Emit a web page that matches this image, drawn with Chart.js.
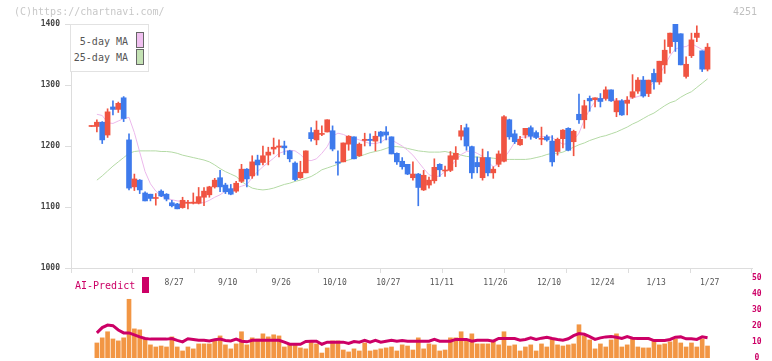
<!DOCTYPE html>
<html>
<head>
<meta charset="utf-8">
<script src="https://cdn.jsdelivr.net/npm/chart.js@4.4.1/dist/chart.umd.min.js"></script>
<style>
html, body { margin:0; padding:0; background:#fff; overflow:hidden; }
#wrap { position:relative; width:772px; height:361px; font-family:"DejaVu Sans Mono", monospace; }
canvas { position:absolute; left:0; }
#copy { position:absolute; left:14px; top:6px; font-size:10px; color:#c8c8c8; }
#code { position:absolute; left:733px; top:6px; font-size:10px; color:#c0c0c0; }
#legend { position:absolute; left:70px; top:24px; width:77px; height:46px; border:1px solid #e2e2e2; background:#fff; font-size:10px; color:#555; }
.li { position:absolute; right:20px; }
.sw { position:absolute; left:65px; width:6px; height:14px; border:1px solid #666; }
#ai { position:absolute; left:75px; top:280px; font-size:10px; color:#cc0066; }
#aibox { position:absolute; left:142px; top:277px; width:7px; height:16px; background:#cc0066; }
</style>
</head>
<body>
<div id="wrap">
  <canvas id="main" width="772" height="290" style="top:0"></canvas>
  <canvas id="sub" width="772" height="93" style="top:270px"></canvas>
  <div id="copy">(C)https://chartnavi.com/</div>
  <div id="code">4251</div>
  <div id="legend">
    <span class="li" style="top:11px">5-day MA</span><span class="sw" style="top:7px;background:#f0c0f0"></span>
    <span class="li" style="top:27px">25-day MA</span><span class="sw" style="top:24px;background:#c4e2b4"></span>
  </div>
  <div id="ai">AI-Predict</div>
  <div id="aibox"></div>
</div>
<script>
// daily candles (index 0 = oldest)
var openP = [1232,1232,1239,1218,1264,1260,1279,1210,1133,1144,1123,1121,1114,1126,1121,1107,1105,1099,1106,1106,
  1106,1116,1120,1133,1148,1136,1130,1126,1142,1162,1151,1177,1173,1185,1195,1198,1200,1192,1172,1148,
  1156,1222,1210,1219,1223,1225,1174,1174,1203,1215,1184,1209,1211,1208,1223,1223,1215,1188,1175,1170,
  1148,1154,1128,1136,1143,1170,1159,1160,1178,1216,1230,1199,1173,1148,1181,1156,1170,1175,1243,1220,
  1202,1218,1230,1222,1211,1215,1208,1191,1212,1229,1207,1252,1243,1278,1276,1278,1278,1292,1256,1274,
  1270,1280,1290,1308,1286,1319,1305,1333,1363,1400,1384,1314,1348,1378,1356,1326];
var highP = [1233,1243,1240,1261,1274,1272,1281,1220,1154,1145,1125,1121,1122,1128,1122,1111,1106,1116,1111,1123,
  1132,1132,1134,1147,1160,1139,1137,1142,1170,1163,1184,1185,1200,1198,1213,1210,1208,1193,1174,1175,
  1192,1230,1241,1233,1243,1233,1192,1205,1217,1215,1205,1221,1220,1224,1224,1232,1215,1189,1181,1170,
  1174,1155,1160,1149,1179,1171,1167,1191,1199,1234,1236,1200,1182,1195,1191,1166,1192,1250,1244,1226,
  1216,1229,1233,1225,1231,1218,1217,1213,1227,1230,1226,1285,1275,1282,1279,1286,1297,1292,1278,1276,
  1281,1317,1312,1314,1308,1326,1339,1374,1385,1400,1384,1346,1385,1397,1356,1368];
var lowP = [1232,1223,1204,1214,1251,1255,1240,1128,1127,1122,1110,1110,1103,1117,1110,1100,1097,1098,1097,1105,
  1105,1102,1116,1131,1125,1122,1120,1124,1140,1133,1147,1152,1169,1169,1187,1182,1186,1174,1143,1147,
  1156,1208,1202,1217,1223,1192,1152,1174,1193,1179,1183,1200,1200,1192,1205,1210,1187,1170,1162,1153,
  1144,1102,1127,1131,1139,1150,1150,1158,1166,1210,1193,1147,1156,1144,1151,1147,1166,1174,1211,1204,
  1201,1213,1211,1212,1202,1208,1167,1185,1197,1192,1184,1237,1229,1257,1264,1264,1275,1273,1248,1250,
  1251,1278,1286,1280,1281,1293,1301,1319,1352,1355,1333,1311,1345,1371,1322,1323];
var closeP = [1232.5,1239,1210,1256,1260,1270,1245,1131,1146,1128,1110,1114,1115,1118,1113,1102,1097,1111,1107,1108,
  1117,1126,1133,1144,1133,1125,1121,1139,1162,1146,1174,1169,1184,1190,1198,1200,1197,1179,1145,1157,
  1192,1212,1226,1220,1243,1195,1172,1205,1216,1179,1203,1211,1209,1216,1216,1218,1187,1174,1166,1154,
  1154,1132,1152,1144,1165,1161,1160,1184,1188,1225,1200,1156,1166,1181,1156,1162,1187,1248,1215,1207,
  1211,1229,1216,1214,1212,1210,1174,1211,1226,1193,1224,1243,1266,1274,1279,1273,1292,1274,1274,1251,
  1275,1289,1308,1282,1308,1305,1339,1357,1385,1371,1333,1334,1374,1385,1326,1362];

// moving averages as drawn on the chart
var ma5 = [null,1252,1250,1238,1237,1241,1245,1247,1222,1190,1158,1138,1126,1118,1114,1112,1110,1109,1108,1107,1107,
  1107,1111,1116,1120,1126,1129,1131,1134,1137,1148,1158,1166,1173,1180,1188,1191,1193,1192,1186,1177,
  1176,1179,1188,1199,1216,1221,1219,1215,1213,1210,1207,1204,1204,1206,1212,1210,1205,1200,1193,1185,
  1174,1163,1153,1149,1151,1158,1165,1177,1186,1191,1192,1188,1183,1174,1166,1170,1180,1192,1206,1214,
  1215,1215,1215,1215,1216,1214,1208,1203,1204,1210,1221,1243,1260,1273,1277,1278,1277,1275,1274,1275,
  1279,1281,1284,1296,1305,1316,1332,1348,1359,1362,1363,1368,1363,1358,1357];
var ma25 = [null,1144,1151,1159,1167,1174,1181,1188,1191,1192,1192,1192,1192,1191,1191,1190,1188,1185,1183,1181,1179,
  1177,1174,1169,1163,1158,1154,1150,1142,1136,1131,1129,1128,1129,1131,1134,1137,1139,1142,1144,1147,
  1150,1155,1161,1164,1167,1170,1175,1177,1180,1183,1186,1189,1191,1193,1196,1199,1199,1198,1196,1194,
  1192,1191,1190,1190,1190,1191,1189,1188,1185,1183,1182,1182,1181,1181,1180,1179,1178,1178,1178,1178,
  1178,1179,1181,1183,1186,1188,1188,1190,1194,1198,1202,1205,1209,1212,1215,1217,1220,1223,1227,1231,
  1236,1240,1245,1250,1254,1260,1266,1271,1274,1280,1285,1289,1296,1303,1310];

// lower panel
var volume = [null,9.4,12.6,16.4,11.9,10.7,12.6,36.7,18.2,17.6,11.9,8.2,6.9,7.5,6.9,13.2,6.9,4.4,6.9,5.7,8.8,
  8.8,8.8,10.7,13.8,8.2,5.7,8.8,16.4,8.2,12.6,11.9,15.1,13.2,14.5,13.8,6.9,8.2,8.2,6.3,5.7,
  10.7,8.8,3.1,6.3,10.7,10.7,5.0,3.8,5.7,4.4,9.4,4.4,5.0,5.7,6.3,6.9,4.4,8.2,7.5,5.0,
  12.6,5.7,8.8,8.2,4.4,5.0,12.6,12.6,16.4,11.3,15.1,8.8,8.8,8.8,10.7,8.2,16.4,7.5,8.2,4.4,
  6.9,8.2,4.4,8.8,6.9,11.9,8.2,7.5,8.2,8.8,20.8,13.8,11.3,5.7,8.8,6.9,11.3,15.1,6.9,8.2,
  11.9,6.9,6.3,6.3,10.7,8.2,8.8,10.1,11.9,9.4,6.9,9.4,6.9,11.9,7.5];
var aiPredict = [null,15.7,19,20.6,20.2,17.5,15.7,15.7,14.5,13.2,12.2,11.8,11.8,11.8,11.8,12.2,11.0,10.1,12.0,11.6,11.1,
  11.1,10.7,11.4,11.8,11.0,10.7,11.8,10.5,10.1,11.1,11.1,11.1,11.1,11.1,11.1,9.9,8.6,8.6,8.6,10.3,
  10.5,10.5,8.6,9.9,9.9,9.9,9.9,9.1,10.3,9.9,11.0,9.9,11.0,9.9,10.5,11.1,10.5,10.9,10.5,10.5,
  10.5,10.5,10.5,11.6,10.5,10.5,10.5,11.6,11.6,11.6,10.5,11.1,11.1,11.1,10.5,12.2,12.2,12.2,12.2,11.1,
  11.6,12.6,11.6,12.4,13.0,12.2,11.6,11.1,12.0,14.0,15.3,14.8,13.4,11.6,12.6,13.2,13.4,13.0,12.2,13.4,
  12.4,12.2,12.2,12.2,10.9,10.9,10.9,11.6,13.0,13.2,12.0,12.0,11.6,13.2,12.6];

var dateLabels = ['8/27','9/10','9/26','10/10','10/27','11/11','11/26','12/10','12/24','1/13','1/27'];
var dateIdx = [15,25,35,45,55,65,75,85,95,105,115];
var priceTicks = [1000,1100,1200,1300,1400];
var subTicks = [0,10,20,30,40,50];

var RED = 'rgb(240,84,66)', BLUE = 'rgb(62,122,236)';
var xMin = -3.83, xMax = 123.3;
var gridIdx = [];
for (var k = 0; k <= 11; k++) gridIdx.push(xMin + k * (xMax - xMin) / 11);

var idx = closeP.map(function (_, i) { return i; });
var candleColor = idx.map(function (i) { return closeP[i] >= openP[i] ? RED : BLUE; });
var monoFont = { family: 'DejaVu Sans Mono', size: 8 };

new Chart(document.getElementById('main'), {
  type: 'bar',
  data: {
    datasets: [
      { type: 'line', data: idx.map(function (i) { return { x: i, y: ma25[i] }; }), borderColor: 'rgb(180,218,165)', borderWidth: 1, pointRadius: 0, order: 4 },
      { type: 'line', data: idx.map(function (i) { return { x: i, y: ma5[i] }; }), borderColor: 'rgb(236,184,236)', borderWidth: 1, pointRadius: 0, order: 3 },
      { data: idx.map(function (i) { return { x: i, y: [lowP[i], highP[i]] }; }), backgroundColor: candleColor, barThickness: 1, grouped: false, order: 2 },
      { data: idx.map(function (i) { return { x: i, y: [openP[i], closeP[i]] }; }), backgroundColor: candleColor, barThickness: 5, minBarLength: 1, grouped: false, order: 1 }
    ]
  },
  options: {
    responsive: false,
    animation: false,
    layout: { padding: { top: 24, right: 20, bottom: 0, left: 0 } },
    plugins: { legend: { display: false }, tooltip: { enabled: false } },
    scales: {
      x: {
        type: 'linear', min: xMin, max: xMax, offset: false, position: 'bottom', weight: 0,
        afterBuildTicks: function (s) { s.ticks = gridIdx.map(function (v) { return { value: v }; }); },
        afterFit: function (s) { s.height = 8; },
        ticks: { display: false },
        grid: { drawOnChartArea: false, offset: false, color: '#dddddd', tickLength: 5 },
        border: { color: '#dddddd' }
      },
      x2: {
        type: 'linear', min: xMin, max: xMax, offset: false, position: 'bottom', weight: 1,
        // labels sit a little right of their candle, as in the original
        afterBuildTicks: function (s) { s.ticks = dateIdx.map(function (v) { return { value: v + 0.4 }; }); },
        afterFit: function (s) { s.height = 14; },
        grid: { display: false, drawTicks: false },
        border: { display: false },
        ticks: { autoSkip: false, maxRotation: 0, padding: 2, color: '#555', font: monoFont,
          callback: function (v, i) { return dateLabels[i]; } }
      },
      y: {
        min: 1000, max: 1400, position: 'left',
        afterBuildTicks: function (s) { s.ticks = priceTicks.map(function (v) { return { value: v }; }); },
        afterFit: function (s) { s.width = 71; },
        ticks: { padding: 5, color: '#444', font: { family: 'DejaVu Sans Mono', size: 8, weight: 'bold' },
          callback: function (v) { return String(v); } },
        grid: { drawOnChartArea: false, color: '#dddddd', tickLength: 6 },
        border: { color: '#dddddd' }
      }
    }
  }
});

new Chart(document.getElementById('sub'), {
  type: 'bar',
  data: {
    datasets: [
      { type: 'line', data: idx.map(function (i) { return { x: i, y: aiPredict[i] }; }), borderColor: '#cc0066', borderWidth: 3, pointRadius: 0, yAxisID: 'yv', order: 1 },
      { data: idx.map(function (i) { return { x: i, y: volume[i] }; }), backgroundColor: 'rgb(242,150,68)', barThickness: 4, grouped: false, yAxisID: 'yv', order: 2 }
    ]
  },
  options: {
    responsive: false,
    animation: false,
    layout: { padding: { top: 8, right: 0, bottom: 5, left: 71 } },
    plugins: { legend: { display: false }, tooltip: { enabled: false } },
    scales: {
      x: { type: 'linear', min: xMin, max: xMax, offset: false, display: false },
      yv: {
        min: 0, max: 50, position: 'right',
        afterBuildTicks: function (s) { s.ticks = subTicks.map(function (v) { return { value: v }; }); },
        afterFit: function (s) { s.width = 20; },
        grid: { display: false, drawTicks: false },
        border: { display: false },
        ticks: { crossAlign: 'center', padding: 0, color: '#cc0066', font: { family: 'DejaVu Sans Mono', size: 8, weight: 'bold' } }
      }
    }
  }
});
</script>
</body>
</html>
